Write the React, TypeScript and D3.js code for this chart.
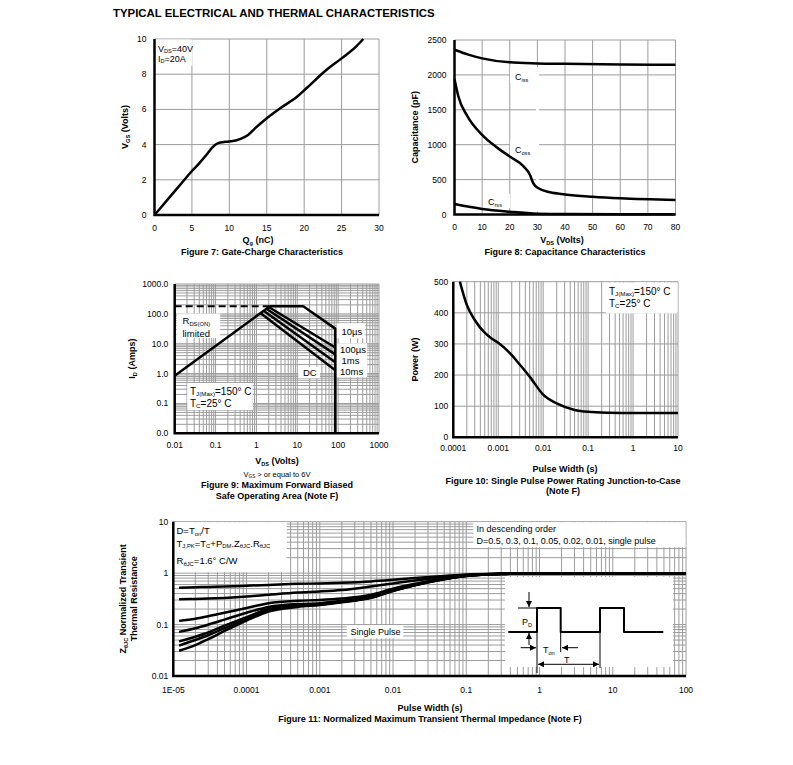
import React, { useRef, useEffect } from 'react'
import * as d3 from 'd3'

const W = 793
const H = 765
const FONT = '"Liberation Sans", Arial, Helvetica, sans-serif'
const GRID = '#9c9c9c'

// Figure 7: gate charge
const qgTicks = [0, 5, 10, 15, 20, 25, 30]
const vgsTicks = [0, 2, 4, 6, 8, 10]
const gateQ = [0, 2, 4, 5, 6, 7, 7.7, 8.5, 9.5, 10.5, 11.5, 12.5, 13.5, 15, 16.8, 19, 20.3, 23, 25, 27, 27.9]
const gateV = [0, 1, 2, 2.5, 2.95, 3.45, 3.83, 4.08, 4.16, 4.2, 4.33, 4.55, 4.95, 5.5, 6.07, 6.7, 7.2, 8.25, 8.9, 9.6, 10]

// Figure 8: capacitance
const vdsTicks = [0, 10, 20, 30, 40, 50, 60, 70, 80]
const capTicks = [0, 500, 1000, 1500, 2000, 2500]
const cissV = [0, 5, 10, 20, 30, 40, 60, 80]
const cissC = [2360, 2290, 2237, 2180, 2165, 2158, 2150, 2145]
const cossV = [0, 1.4, 4.5, 10, 15, 20, 25, 27.3, 28.5, 30.4, 34.6, 40, 50, 60, 80]
const cossC = [1940, 1690, 1420, 1140, 970, 830, 690, 570, 450, 375, 318, 288, 255, 232, 208]
const crssV = [0, 10, 20, 30, 40, 80]
const crssC = [150, 80, 40, 12, 6, 5]

// Figure 9: safe operating area
const soaXTicks = [0.01, 0.1, 1, 10, 100, 1000]
const soaXLabels = ['0.01', '0.1', '1', '10', '100', '1000']
const soaYTicks = [0.01, 0.1, 1, 10, 100, 1000]
const soaYLabels = ['0.0', '0.1', '1.0', '10.0', '100.0', '1000.0']
const rdsV = [0.01, 2.15]
const rdsI = [0.85, 180]
const limV = [0.01, 2.15]
const limI = [180, 180]
const us10V = [2.15, 14, 85, 85]
const us10I = [180, 180, 32, 0.01]
const us100V = [2.0, 85]
const us100I = [170, 7.5]
const ms1V = [1.75, 85]
const ms1I = [149, 4.4]
const ms10V = [1.5, 85]
const ms10I = [128, 2.4]
const dcV = [1.25, 85]
const dcI = [106, 1.3]

// Figure 10: single pulse power
const pwXTicks = [0.0001, 0.001, 0.01, 0.1, 1, 10]
const pwXLabels = ['0.0001', '0.001', '0.01', '0.1', '1', '10']
const powTicks = [0, 100, 200, 300, 400, 500]
const pulseT = [1.4e-4, 2e-4, 3e-4, 5e-4, 7e-4, 1e-3, 2e-3, 3e-3, 5e-3, 1e-2, 2e-2, 5e-2, 0.1, 0.3, 1, 10]
const pulseP = [500, 425, 377, 336, 318, 304, 264, 234, 195, 137, 109, 88, 82, 79, 78, 78]

// Figure 11: transient thermal impedance
const ztXTicks = [1e-5, 1e-4, 1e-3, 1e-2, 0.1, 1, 10, 100]
const ztXLabels = ['1E-05', '0.0001', '0.001', '0.01', '0.1', '1', '10', '100']
const ztYTicks = [0.01, 0.1, 1, 10]
const ztYLabels = ['0.01', '0.1', '1', '10']
const ztT = [1.2e-5, 2e-5, 3e-5, 5e-5, 1e-4, 2e-4, 5e-4, 1e-3, 2e-3, 5e-3, 1e-2, 2e-2, 5e-2, 0.1, 0.3, 1, 10, 100]
const zD05 = [0.52, 0.53, 0.54, 0.55, 0.57, 0.59, 0.62, 0.63, 0.65, 0.69, 0.74, 0.8, 0.88, 0.94, 0.98, 1, 1, 1]
const zD03 = [0.31, 0.315, 0.32, 0.33, 0.35, 0.38, 0.42, 0.44, 0.47, 0.55, 0.63, 0.72, 0.84, 0.92, 0.97, 1, 1, 1]
const zD01 = [0.118, 0.13, 0.145, 0.17, 0.21, 0.26, 0.29, 0.3, 0.32, 0.38, 0.5, 0.62, 0.8, 0.9, 0.97, 1, 1, 1]
const zD005 = [0.072, 0.085, 0.1, 0.125, 0.17, 0.22, 0.25, 0.26, 0.29, 0.35, 0.47, 0.6, 0.78, 0.89, 0.97, 1, 1, 1]
const zD002 = [0.047, 0.058, 0.07, 0.095, 0.14, 0.2, 0.235, 0.25, 0.28, 0.34, 0.46, 0.59, 0.77, 0.89, 0.96, 1, 1, 1]
const zD001 = [0.039, 0.05, 0.062, 0.085, 0.13, 0.19, 0.23, 0.245, 0.275, 0.335, 0.455, 0.585, 0.77, 0.88, 0.96, 1, 1, 1]
const zSingle = [0.031, 0.04, 0.052, 0.075, 0.12, 0.18, 0.22, 0.24, 0.27, 0.33, 0.45, 0.58, 0.76, 0.88, 0.96, 1, 1, 1]
const zSeries = [zD05, zD03, zD01, zD005, zD002, zD001, zSingle]

interface Box { l: number; r: number; t: number; b: number }
type G = d3.Selection<SVGGElement, unknown, null, undefined>
type Sc = (v: number) => number

function logGrid(a: number, b: number) {
  const out: number[] = []
  const e0 = Math.round(Math.log10(a))
  const e1 = Math.round(Math.log10(b))
  for (let e = e0; e < e1; e++) for (let k = 1; k <= 9; k++) out.push(k * Math.pow(10, e))
  out.push(b)
  return out
}

// text with _{sub} markup
function txt(
  parent: G,
  x: number,
  y: number,
  s: string,
  o: { size?: number; bold?: boolean; anchor?: string; rot?: boolean } = {}
) {
  const size = o.size ?? 8.5
  const t = parent
    .append('text')
    .attr('font-family', FONT)
    .attr('font-size', size)
    .attr('font-weight', o.bold ? 'bold' : 'normal')
    .attr('text-anchor', o.anchor ?? 'start')
    .attr('fill', '#000')
  if (o.rot) t.attr('transform', `translate(${x},${y}) rotate(-90)`)
  else t.attr('x', x).attr('y', y)
  let shift = 0
  s.split(/(_\{[^}]*\})/).forEach((p) => {
    if (!p) return
    const sub = p.startsWith('_{')
    const sp = t.append('tspan').text(sub ? p.slice(2, -1) : p)
    const want = sub ? size * 0.18 : 0
    if (want !== shift) {
      sp.attr('dy', want - shift)
      shift = want
    }
    if (sub) sp.attr('font-size', size * 0.62)
  })
  return t
}

function grid(g: G, box: Box, x: Sc, y: Sc, xv: number[], yv: number[]) {
  g.append('g')
    .selectAll('line')
    .data(xv)
    .join('line')
    .attr('x1', (d) => x(d))
    .attr('x2', (d) => x(d))
    .attr('y1', box.t)
    .attr('y2', box.b)
    .attr('stroke', GRID)
    .attr('stroke-width', 1)
  g.append('g')
    .selectAll('line')
    .data(yv)
    .join('line')
    .attr('x1', box.l)
    .attr('x2', box.r)
    .attr('y1', (d) => y(d))
    .attr('y2', (d) => y(d))
    .attr('stroke', GRID)
    .attr('stroke-width', 1)
}

function white(g: G, x: number, y: number, w: number, h: number) {
  g.append('rect').attr('x', x).attr('y', y).attr('width', w).attr('height', h).attr('fill', '#fff')
}

function trace(
  g: G,
  x: Sc,
  y: Sc,
  xs: number[],
  ys: number[],
  o: { w?: number; smooth?: boolean; dash?: string } = {}
) {
  const line = d3
    .line<number>()
    .x((_, i) => x(xs[i]))
    .y((d) => y(d))
    .curve(o.smooth ? d3.curveMonotoneX : d3.curveLinear)
  const p = g
    .append('path')
    .attr('d', line(ys))
    .attr('fill', 'none')
    .attr('stroke', '#000')
    .attr('stroke-width', o.w ?? 2.5)
    .attr('stroke-linejoin', 'round')
  if (o.dash) p.attr('stroke-dasharray', o.dash)
}

function axes(g: G, box: Box) {
  g.append('path')
    .attr('d', `M${box.l},${box.t}V${box.b}H${box.r}`)
    .attr('fill', 'none')
    .attr('stroke', '#000')
    .attr('stroke-width', 2.5)
}

function xLabels(g: G, x: Sc, vals: number[], labels: string[], yPos: number) {
  vals.forEach((v, i) => txt(g, x(v), yPos, labels[i], { anchor: 'middle' }))
}
function yLabels(g: G, y: Sc, vals: number[], labels: string[], xPos: number) {
  vals.forEach((v, i) => txt(g, xPos, y(v) + 3, labels[i], { anchor: 'end' }))
}

function draw(svg: d3.Selection<SVGSVGElement, unknown, null, undefined>) {
  const root = svg.append('g') as unknown as G
  const defs = svg.append('defs')
  defs
    .append('marker')
    .attr('id', 'arr')
    .attr('viewBox', '0 0 10 10')
    .attr('refX', 10)
    .attr('refY', 5)
    .attr('markerWidth', 6)
    .attr('markerHeight', 6)
    .attr('markerUnits', 'userSpaceOnUse')
    .attr('orient', 'auto-start-reverse')
    .append('path')
    .attr('d', 'M0,0L10,5L0,10z')
    .attr('fill', '#000')

  txt(root, 113, 16.7, 'TYPICAL ELECTRICAL AND THERMAL CHARACTERISTICS', { size: 11.4, bold: true })

  // ---------- Figure 7
  {
    const box = { l: 154.5, r: 379, t: 39, b: 215 }
    const x = d3.scaleLinear().domain([0, 30]).range([box.l, box.r])
    const y = d3.scaleLinear().domain([0, 10]).range([box.b, box.t])
    const g = root.append('g')
    grid(g, box, x, y, qgTicks, vgsTicks)
    white(g, box.l, box.t + 0.5, 38, 26)
    trace(g, x, y, gateQ, gateV, { smooth: true })
    axes(g, box)
    txt(g, 158, 51.5, 'V_{DS}=40V', { size: 9 })
    txt(g, 158, 61.5, 'I_{D}=20A', { size: 9 })
    xLabels(g, x, qgTicks, qgTicks.map(String), box.b + 15.7)
    yLabels(g, y, vgsTicks, vgsTicks.map(String), box.l - 8)
    txt(g, 128, (box.t + box.b) / 2, 'V_{GS} (Volts)', { size: 9, bold: true, anchor: 'middle', rot: true })
    txt(g, 258, 243, 'Q_{g} (nC)', { size: 9, bold: true, anchor: 'middle' })
    txt(g, 262, 255, 'Figure 7: Gate-Charge Characteristics', { size: 9, bold: true, anchor: 'middle' })
  }

  // ---------- Figure 8
  {
    const box = { l: 454.5, r: 675.5, t: 40, b: 214.5 }
    const x = d3.scaleLinear().domain([0, 80]).range([box.l, box.r])
    const y = d3.scaleLinear().domain([0, 2500]).range([box.b, box.t])
    const g = root.append('g')
    grid(g, box, x, y, vdsTicks, capTicks)
    white(g, 510, 67, 29, 16)
    white(g, 510, 140, 29, 16)
    white(g, 485, 194, 25, 14)
    white(g, x(30) - 1.5, 67, 3, box.b - 70)
    trace(g, x, y, cissV, cissC, { smooth: true })
    trace(g, x, y, cossV, cossC, { smooth: true })
    trace(g, x, y, crssV, crssC, { smooth: true })
    axes(g, box)
    txt(g, 515, 80, 'C_{iss}', { size: 9 })
    txt(g, 515, 153, 'C_{oss}', { size: 9 })
    txt(g, 488, 205, 'C_{rss}', { size: 9 })
    xLabels(g, x, vdsTicks, vdsTicks.map(String), box.b + 15.4)
    yLabels(g, y, capTicks, capTicks.map(String), box.l - 8)
    txt(g, 418, (box.t + box.b) / 2, 'Capacitance (pF)', { size: 9, bold: true, anchor: 'middle', rot: true })
    txt(g, 562, 243, 'V_{DS} (Volts)', { size: 9, bold: true, anchor: 'middle' })
    txt(g, 565, 255, 'Figure 8: Capacitance Characteristics', { size: 9, bold: true, anchor: 'middle' })
  }

  // ---------- Figure 9
  {
    const box = { l: 174.7, r: 379, t: 284, b: 433.3 }
    const x = d3.scaleLog().domain([0.01, 1000]).range([box.l, box.r])
    const y = d3.scaleLog().domain([0.01, 1000]).range([box.b, box.t])
    const g = root.append('g')
    grid(g, box, x, y, logGrid(0.01, 1000), logGrid(0.01, 1000))
    white(g, 176.7, 313.5, 43.5, 24.5)
    white(g, 336.7, 323.3, 28.5, 15)
    white(g, 336.7, 343.3, 30.5, 34)
    white(g, 298.3, 366.7, 21.7, 11.6)
    white(g, 187.3, 383, 65.5, 27)
    trace(g, x, y, limV, limI, { w: 2, dash: '7,4' })
    trace(g, x, y, rdsV, rdsI)
    trace(g, x, y, us10V, us10I)
    trace(g, x, y, us100V, us100I)
    trace(g, x, y, ms1V, ms1I)
    trace(g, x, y, ms10V, ms10I)
    trace(g, x, y, dcV, dcI)
    axes(g, box)
    txt(g, 182.5, 324, 'R_{DS(ON)}', { size: 9.5 })
    txt(g, 182.5, 336.5, 'limited', { size: 9.5 })
    txt(g, 341.5, 335, '10µs', { size: 9.5 })
    txt(g, 340, 353.3, '100µs', { size: 9.5 })
    txt(g, 341.5, 364, '1ms', { size: 9.5 })
    txt(g, 340, 374.5, '10ms', { size: 9.5 })
    txt(g, 303, 376, 'DC', { size: 9.5 })
    txt(g, 190, 394.5, 'T_{J(Max)}=150° C', { size: 10 })
    txt(g, 190, 406.5, 'T_{C}=25° C', { size: 10 })
    xLabels(g, x, soaXTicks, soaXLabels, box.b + 14.7)
    yLabels(g, y, soaYTicks, soaYLabels, box.l - 6.4)
    txt(g, 135, (box.t + box.b) / 2, 'I_{D} (Amps)', { size: 9, bold: true, anchor: 'middle', rot: true })
    txt(g, 277, 464, 'V_{DS} (Volts)', { size: 9, bold: true, anchor: 'middle' })
    txt(g, 277, 477, 'V_{GS} > or equal to 6V', { size: 7.5, anchor: 'middle' })
    txt(g, 277, 488, 'Figure 9: Maximum Forward Biased', { size: 9, bold: true, anchor: 'middle' })
    txt(g, 277, 499, 'Safe Operating Area (Note F)', { size: 9, bold: true, anchor: 'middle' })
  }

  // ---------- Figure 10
  {
    const box = { l: 453.3, r: 678, t: 281.7, b: 437.3 }
    const x = d3.scaleLog().domain([0.0001, 10]).range([box.l, box.r])
    const y = d3.scaleLinear().domain([0, 500]).range([box.b, box.t])
    const g = root.append('g')
    grid(g, box, x, y, logGrid(0.0001, 10), powTicks)
    white(g, 606, 282.5, 71.5, 31)
    trace(g, x, y, pulseT, pulseP, { smooth: true })
    axes(g, box)
    txt(g, 609, 294.5, 'T_{J(Max)}=150° C', { size: 10 })
    txt(g, 609, 306.5, 'T_{C}=25° C', { size: 10 })
    xLabels(g, x, pwXTicks, pwXLabels, box.b + 14)
    yLabels(g, y, powTicks, powTicks.map(String), box.l - 5)
    txt(g, 418, (box.t + box.b) / 2, 'Power (W)', { size: 9, bold: true, anchor: 'middle', rot: true })
    txt(g, 565, 472, 'Pulse Width (s)', { size: 9, bold: true, anchor: 'middle' })
    txt(g, 563, 484, 'Figure 10: Single Pulse Power Rating Junction-to-Case', { size: 9, bold: true, anchor: 'middle' })
    txt(g, 563, 494, '(Note F)', { size: 9, bold: true, anchor: 'middle' })
  }

  // ---------- Figure 11
  {
    const box = { l: 173.3, r: 686, t: 521.7, b: 676 }
    const x = d3.scaleLog().domain([1e-5, 100]).range([box.l, box.r])
    const y = d3.scaleLog().domain([0.01, 10]).range([box.b, box.t])
    const g = root.append('g')
    grid(g, box, x, y, logGrid(1e-5, 100), logGrid(0.01, 10))
    white(g, box.l, box.t + 0.5, 113.5, 50)
    white(g, 473.3, box.t + 0.5, 212.2, 25)
    white(g, 346.7, 625, 56.6, 13.3)
    const ins = { x: 505, y: 577, w: 168, h: 90 }
    white(g, ins.x, ins.y, ins.w, ins.h)
    zSeries.forEach((s) => trace(g, x, y, ztT, s, { smooth: true }))
    axes(g, box)
    txt(g, 176.5, 534, 'D=T_{on}/T', { size: 9.5 })
    txt(g, 176.5, 546.5, 'T_{J,PK}=T_{C}+P_{DM}.Z_{θJC}.R_{θJC}', { size: 9.5 })
    txt(g, 176.5, 564, 'R_{θJC}=1.6° C/W', { size: 9.5 })
    txt(g, 476.5, 532, 'In descending order', { size: 9 })
    txt(g, 476.5, 544, 'D=0.5, 0.3, 0.1, 0.05, 0.02, 0.01, single pulse', { size: 9 })
    txt(g, 350.5, 635, 'Single Pulse', { size: 9 })

    // pulse-train inset (schematic, inset-local units)
    const ig = g.append('g').attr('transform', `translate(${ins.x},${ins.y})`) as unknown as G
    const waveX = [3.3, 32, 32, 55.7, 55.7, 95, 95, 119, 119, 158.3]
    const waveY = [55, 55, 31, 31, 55, 55, 31, 31, 55, 55]
    const id = (v: number) => v
    trace(ig, id, id, waveX, waveY, { w: 2 })
    const thin = (x1: number, y1: number, x2: number, y2: number, start = false, end = false) => {
      const l = ig
        .append('line')
        .attr('x1', x1)
        .attr('y1', y1)
        .attr('x2', x2)
        .attr('y2', y2)
        .attr('stroke', '#000')
        .attr('stroke-width', 1)
      if (end) l.attr('marker-end', 'url(#arr)')
      if (start) l.attr('marker-start', 'url(#arr)')
    }
    thin(24, 15, 24, 30, false, true)
    thin(24, 68, 24, 56, false, true)
    thin(13, 31, 32, 31)
    thin(15.7, 70.7, 31, 70.7, false, true)
    thin(73, 70.7, 57, 70.7, false, true)
    thin(55.7, 55, 55.7, 75)
    thin(32, 55, 32, 96)
    thin(95, 55, 95, 91)
    thin(33, 87.3, 94, 87.3, true, true)
    txt(ig, 17, 48, 'P_{D}', { size: 9 })
    txt(ig, 38, 76, 'T_{on}', { size: 9 })
    txt(ig, 59, 85.5, 'T', { size: 9 })

    xLabels(g, x, ztXTicks, ztXLabels, box.b + 17)
    yLabels(g, y, ztYTicks, ztYLabels, box.l - 5)
    txt(g, 126, (box.t + box.b) / 2, 'Z_{θJC} Normalized Transient', { size: 9, bold: true, anchor: 'middle', rot: true })
    txt(g, 137, (box.t + box.b) / 2, 'Thermal Resistance', { size: 9, bold: true, anchor: 'middle', rot: true })
    txt(g, 430, 711, 'Pulse Width (s)', { size: 9, bold: true, anchor: 'middle' })
    txt(g, 430, 722, 'Figure 11: Normalized Maximum Transient Thermal Impedance (Note F)', {
      size: 9,
      bold: true,
      anchor: 'middle',
    })
  }
}

export default function App() {
  const ref = useRef<SVGSVGElement>(null)
  useEffect(() => {
    const svg = d3.select(ref.current!)
    svg.selectAll('*').remove()
    draw(svg)
  }, [])
  return (
    <svg
      ref={ref}
      width={W}
      height={H}
      style={{ position: 'absolute', left: 0, top: 0, background: '#fff' }}
    />
  )
}
